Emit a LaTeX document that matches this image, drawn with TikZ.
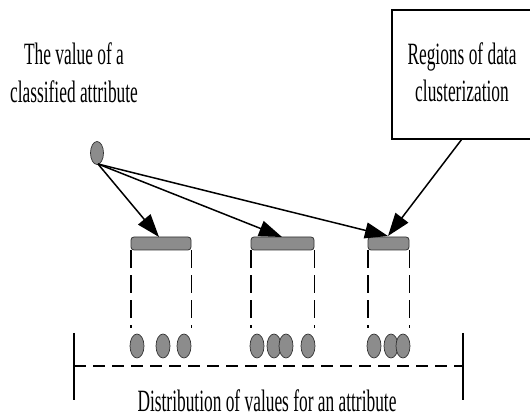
\documentclass[tikz,border=0pt]{standalone}
\usepackage{fontspec}
\setmainfont{Liberation Serif}[FakeStretch=0.56]
\usetikzlibrary{arrows.meta}
\begin{document}
\begin{tikzpicture}[x=1pt,y=-1pt,
  lbl/.style={font=\fontsize{31}{38}\selectfont, inner sep=0pt, anchor=base},
  barbox/.style={draw=black!80, fill=black!45, rounded corners=3pt, line width=0.8pt, inner sep=0pt, minimum height=13pt},
  guide/.style={line width=1.8pt, dash pattern=on 18pt off 7pt},
  conn/.style={line width=1.5pt, -{Triangle[length=23pt,width=16pt]}},
]
\useasboundingbox (0,0) rectangle (530,419);
\clip (0,0) rectangle (530,419);
% texts
\node[lbl] (vtxt1) at (74,65) {The value of a};
\node[lbl] (vtxt2) at (74,103) {classified attribute};
\node[lbl] (dtxt) at (267,411) {Distribution of values for an attribute};
% box
\node[draw, line width=1.3pt, minimum width=143pt, minimum height=129pt, inner sep=0pt] (rbox) at (463.5,74.5) {};
\node[lbl] (rtxt1) at (462,65) {Regions of data};
\node[lbl] (rtxt2) at (462,102) {clusterization};
% source value
\draw[draw=black!80, fill=black!45, line width=0.7pt] (97,153) ellipse [x radius=6.5, y radius=11.5];
\coordinate (src) at (98,164);
% bars
\node[barbox, minimum width=60pt] (b1) at (161,243.5) {};
\node[barbox, minimum width=63pt] (b2) at (282.5,243.5) {};
\node[barbox, minimum width=41pt] (b3) at (388.5,243.5) {};
% guides
\foreach \b in {b1,b2,b3}{
  \draw[guide] (\b.south west) -- ++(0,78);
  \draw[guide] (\b.south east) -- ++(0,78);
}
% dots
\foreach \x in {137,163,184,257,274,286,308,374,391,403}{
  \draw[draw=black!80, fill=black!45, line width=0.7pt] (\x,346) ellipse [x radius=7, y radius=12];
}
% axis
\coordinate (axl) at (74,366);
\coordinate (axr) at (463,366);
\draw[line width=2.4pt, dash pattern=on 12pt off 7pt] (axl) -- (axr);
\draw[line width=1.2pt] (74,333) -- (74,400);
\draw[line width=1.2pt] (463,333) -- (463,400);
% arrows
\coordinate (t1) at (159,237);
\coordinate (t2) at (282,237);
\coordinate (t3) at (388,236);
\coordinate (bx) at (462,139);
\draw[conn] (src) -- (t1);
\draw[conn] (src) -- (t2);
\draw[conn] (src) -- (t3);
\draw[conn] (bx) -- (t3);
\end{tikzpicture}
\end{document}
